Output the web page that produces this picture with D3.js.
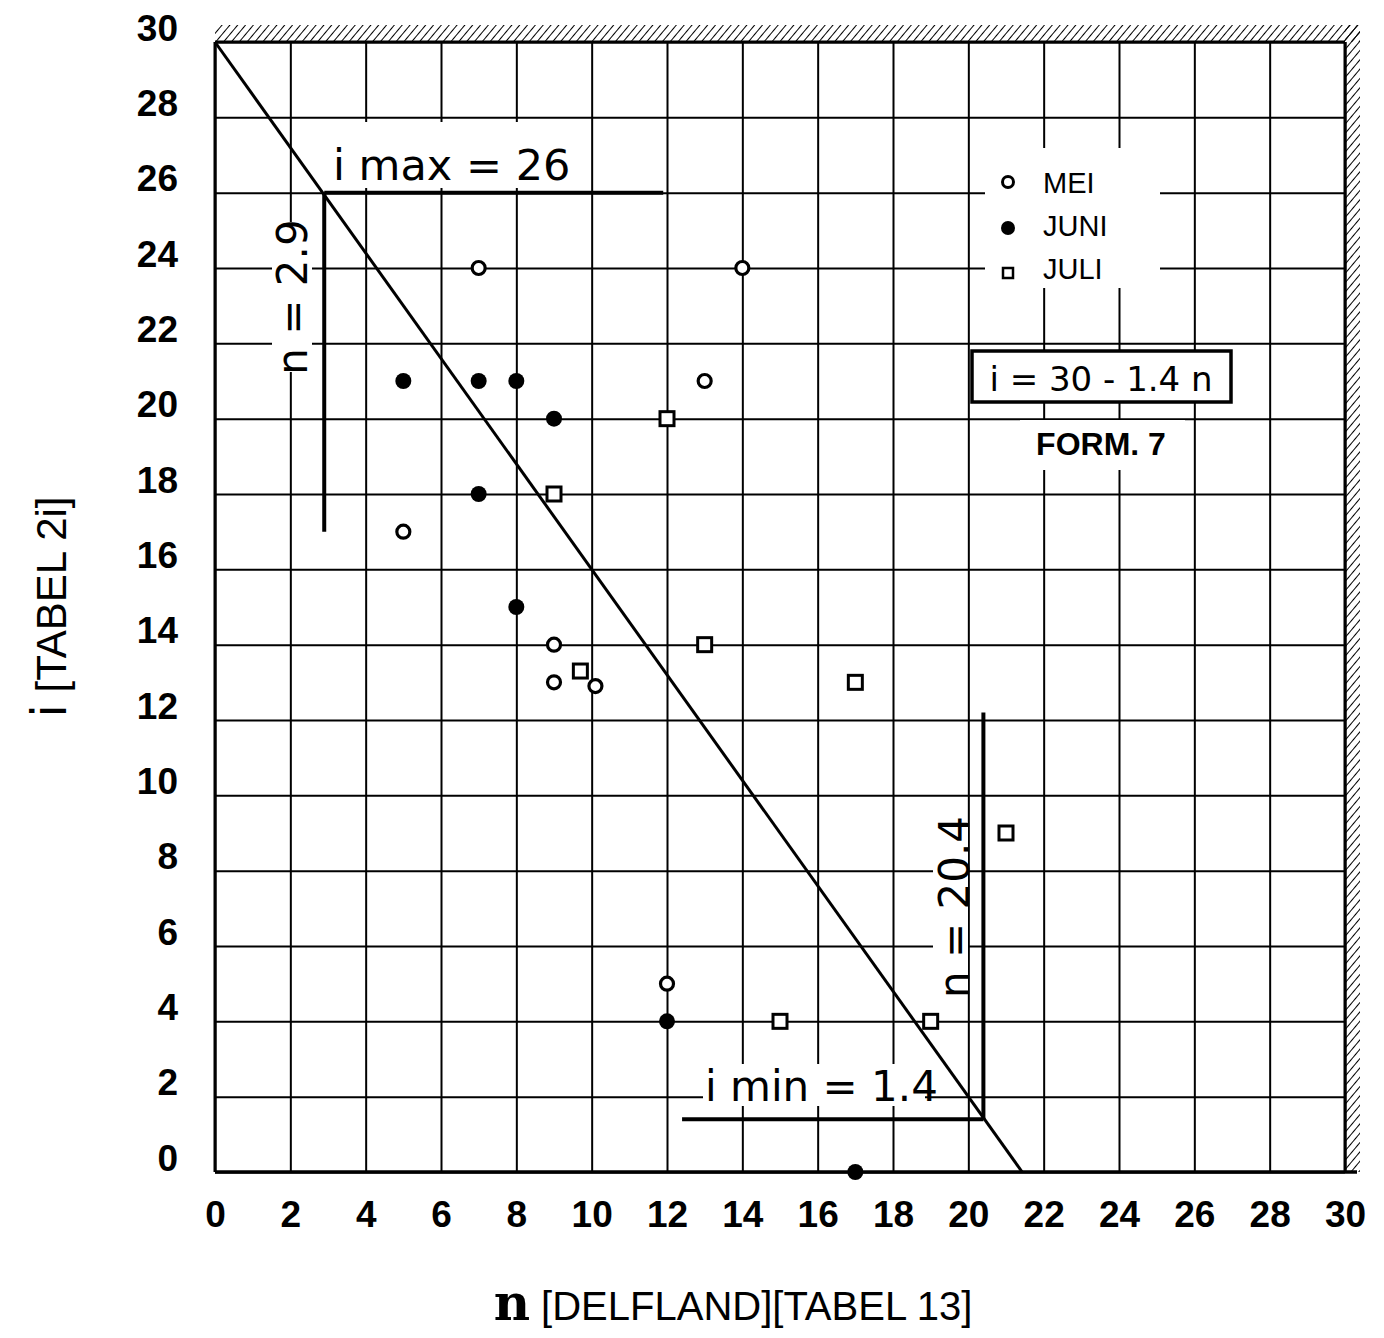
<!DOCTYPE html>
<html>
<head>
<meta charset="utf-8">
<script src="https://cdn.jsdelivr.net/npm/d3@7"></script>
<style>
  body { margin: 0; background: #fff; }
  svg text { fill: #000; }
</style>
</head>
<body>
<div id="chart"></div>
<script>
// podaci
const nTicks = [0, 2, 4, 6, 8, 10, 12, 14, 16, 18, 20, 22, 24, 26, 28, 30];
const iTicks = [0, 2, 4, 6, 8, 10, 12, 14, 16, 18, 20, 22, 24, 26, 28, 30];

const meiN = [7, 14, 13, 5, 9, 9, 10.1, 12];
const meiI = [24, 24, 21, 17, 14, 13, 12.9, 5];

const juniN = [5, 7, 8, 9, 7, 8, 12, 17];
const juniI = [21, 21, 21, 20, 18, 15, 4, 0];

const juliN = [12, 9, 9.7, 13, 17, 21, 15, 19];
const juliI = [20, 18, 13.3, 14, 13, 9, 4, 4];

const formN = [0, 21.43];
const formI = [30, 0];

const imaxN = [2.9, 11.9];
const imaxI = 26;
const nLowI = [26, 17];
const nLow = 2.9;

const iminN = [12.4, 20.4];
const iminI = 1.4;
const nHighI = [1.4, 12.2];
const nHigh = 20.4;

const legendLabels = ["MEI", "JUNI", "JULI"];

// dimenzije
const dim = {
    sirina: 1384,
    visina: 1338,
    margine: { top: 42, right: 39, bottom: 166, left: 215 },
};
dim.grSirina = dim.sirina - dim.margine.left - dim.margine.right;
dim.grVisina = dim.visina - dim.margine.top - dim.margine.bottom;

const svg = d3.select("#chart").append("svg")
    .attr("width", dim.sirina)
    .attr("height", dim.visina);

const defs = svg.append("defs");
const pat = defs.append("pattern")
    .attr("id", "hatch")
    .attr("patternUnits", "userSpaceOnUse")
    .attr("width", 6).attr("height", 6)
    .attr("patternTransform", "rotate(40)");
pat.append("line")
    .attr("x1", 0).attr("y1", 0).attr("x2", 0).attr("y2", 6)
    .attr("stroke", "#000").attr("stroke-width", 2);

const g = svg.append("g")
    .attr("transform", `translate(${dim.margine.left},${dim.margine.top})`);

const x = d3.scaleLinear().domain([0, 30]).range([0, dim.grSirina]);
const y = d3.scaleLinear().domain([0, 30]).range([dim.grVisina, 0]);

// srafura gore i desno
g.append("rect")
    .attr("x", 0).attr("y", -17)
    .attr("width", dim.grSirina + 15).attr("height", 17)
    .attr("fill", "url(#hatch)");
g.append("rect")
    .attr("x", dim.grSirina).attr("y", -17)
    .attr("width", 15).attr("height", dim.grVisina + 17)
    .attr("fill", "url(#hatch)");

// mreza + osi
const xAxis = g.append("g")
    .attr("transform", `translate(0,${dim.grVisina})`)
    .call(d3.axisBottom(x).tickValues(nTicks).tickSize(-dim.grVisina).tickPadding(28));
const yAxis = g.append("g")
    .call(d3.axisLeft(y).tickValues(iTicks).tickSize(-dim.grSirina).tickPadding(37));

[xAxis, yAxis].forEach(ax => {
    ax.select(".domain").remove();
    ax.selectAll(".tick line").attr("stroke", "#000").attr("stroke-width", 2);
    ax.selectAll(".tick text")
        .attr("font-family", "Liberation Sans, Arial, sans-serif")
        .attr("font-weight", "bold")
        .attr("font-size", 37)
        .attr("fill", "#000");
});
yAxis.selectAll(".tick text").attr("dy", "-0.05em");
xAxis.selectAll(".tick text").attr("dy", "0.72em");

// deblje osi
g.append("line")
    .attr("x1", 0).attr("x2", 0).attr("y1", 0).attr("y2", dim.grVisina)
    .attr("stroke", "#000").attr("stroke-width", 3);
g.append("line")
    .attr("x1", 0).attr("x2", dim.grSirina + 12).attr("y1", dim.grVisina).attr("y2", dim.grVisina)
    .attr("stroke", "#000").attr("stroke-width", 3.5);
g.append("line")
    .attr("x1", dim.grSirina).attr("x2", dim.grSirina).attr("y1", 0).attr("y2", dim.grVisina)
    .attr("stroke", "#000").attr("stroke-width", 3);
g.append("line")
    .attr("x1", 0).attr("x2", dim.grSirina).attr("y1", 0).attr("y2", 0)
    .attr("stroke", "#000").attr("stroke-width", 3);

// bijele podloge iza teksta (mreza je prekinuta)
const maske = [
    [330, 122, 250, 66],   // i max
    [272, 222, 40, 150],   // n = 2.9
    [933, 822, 35, 172],   // n = 20.4
    [703, 1064, 222, 42],  // i min
    [985, 148, 175, 140],  // legenda
    [1020, 420, 165, 50],  // FORM. 7
];
maske.forEach(m => {
    svg.append("rect")
        .attr("x", m[0]).attr("y", m[1]).attr("width", m[2]).attr("height", m[3])
        .attr("fill", "#fff");
});

// pravac i = 30 - 1.4 n
const linija = d3.line().x(d => x(d[0])).y(d => y(d[1]));
g.append("path")
    .datum(d3.zip(formN, formI))
    .attr("d", linija)
    .attr("fill", "none")
    .attr("stroke", "#000")
    .attr("stroke-width", 3);

// oznake imax / imin
const debela = (pts) => g.append("path")
    .datum(pts)
    .attr("d", linija)
    .attr("fill", "none")
    .attr("stroke", "#000")
    .attr("stroke-width", 4);
debela([[imaxN[0], imaxI], [imaxN[1], imaxI]]);
debela([[nLow, nLowI[0]], [nLow, nLowI[1]]]);
debela([[iminN[0], iminI], [iminN[1], iminI]]);
debela([[nHigh, nHighI[0]], [nHigh, nHighI[1]]]);

const rukopis = "DejaVu Sans, sans-serif";
svg.append("text")
    .attr("x", 333).attr("y", 180)
    .attr("font-family", rukopis).attr("font-size", 43)
    .text("i max = 26");
svg.append("text")
    .attr("transform", "translate(307,297) rotate(-90)")
    .attr("text-anchor", "middle")
    .attr("font-family", rukopis).attr("font-size", 42)
    .text("n = 2.9");
svg.append("text")
    .attr("transform", "translate(969,907) rotate(-90)")
    .attr("text-anchor", "middle")
    .attr("font-family", rukopis).attr("font-size", 42)
    .text("n = 20.4");
svg.append("text")
    .attr("x", 705).attr("y", 1101)
    .attr("font-family", rukopis).attr("font-size", 42)
    .text("i min = 1.4");

// formula u okviru
svg.append("rect")
    .attr("x", 972).attr("y", 351).attr("width", 259).attr("height", 51)
    .attr("fill", "#fff").attr("stroke", "#000").attr("stroke-width", 3.5);
svg.append("text")
    .attr("x", 1101).attr("y", 391)
    .attr("text-anchor", "middle")
    .attr("font-family", rukopis).attr("font-size", 34)
    .text("i = 30 - 1.4 n");
svg.append("text")
    .attr("x", 1101).attr("y", 455)
    .attr("text-anchor", "middle")
    .attr("font-family", "Liberation Sans, Arial, sans-serif")
    .attr("font-weight", "bold")
    .attr("font-size", 32)
    .text("FORM. 7");

// tocke
const sveTocke = g.append("g");
sveTocke.selectAll(".mei")
    .data(d3.zip(meiN, meiI))
    .enter().append("circle")
    .attr("cx", d => x(d[0]))
    .attr("cy", d => y(d[1]))
    .attr("r", 6.5)
    .attr("fill", "#fff")
    .attr("stroke", "#000")
    .attr("stroke-width", 3.2);
sveTocke.selectAll(".juni")
    .data(d3.zip(juniN, juniI))
    .enter().append("circle")
    .attr("cx", d => x(d[0]))
    .attr("cy", d => y(d[1]))
    .attr("r", 8)
    .attr("fill", "#000");
sveTocke.selectAll(".juli")
    .data(d3.zip(juliN, juliI))
    .enter().append("rect")
    .attr("x", d => x(d[0]) - 7)
    .attr("y", d => y(d[1]) - 7)
    .attr("width", 14).attr("height", 14)
    .attr("fill", "#fff")
    .attr("stroke", "#000")
    .attr("stroke-width", 3);

// legenda
const leg = svg.append("g").attr("transform", "translate(1008,182)");
leg.append("circle").attr("cx", 0).attr("cy", 0).attr("r", 5.5)
    .attr("fill", "#fff").attr("stroke", "#000").attr("stroke-width", 3);
leg.append("circle").attr("cx", 0).attr("cy", 46).attr("r", 7).attr("fill", "#000");
leg.append("rect").attr("x", -5).attr("y", 86).attr("width", 10).attr("height", 10)
    .attr("fill", "#fff").attr("stroke", "#000").attr("stroke-width", 2.5);
leg.selectAll(".lt")
    .data(legendLabels)
    .enter().append("text")
    .attr("x", 35)
    .attr("y", (d, k) => k * 43 + 11)
    .attr("font-family", "Liberation Sans, Arial, sans-serif")
    .attr("font-size", 29)
    .text(d => d);

// naslovi osi
svg.append("text")
    .attr("x", 733).attr("y", 1320)
    .attr("text-anchor", "middle")
    .attr("font-family", "Liberation Sans, Arial, sans-serif")
    .attr("font-size", 40)
    .html('<tspan font-family="DejaVu Serif, serif" font-weight="bold" font-size="50">n</tspan> [DELFLAND][TABEL 13]');

svg.append("text")
    .attr("transform", "translate(66,607) rotate(-90)")
    .attr("text-anchor", "middle")
    .attr("font-family", "Liberation Sans, Arial, sans-serif")
    .attr("font-size", 42)
    .html('<tspan font-family="DejaVu Sans, sans-serif" font-size="48">i</tspan> [TABEL 2i]');
</script>
</body>
</html>
